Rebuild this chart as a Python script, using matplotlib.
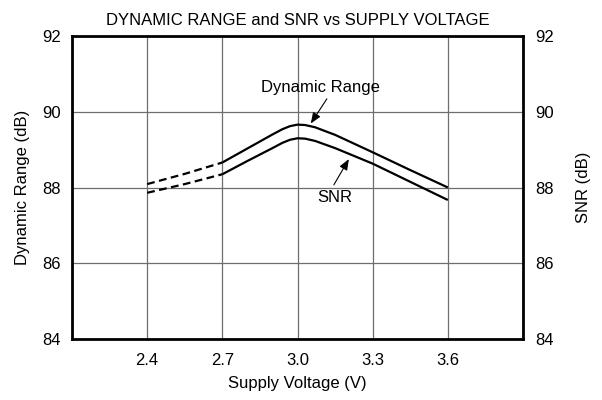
import matplotlib
matplotlib.use("Agg")
import matplotlib.pyplot as plt

plt.rcParams['font.family'] = ['Liberation Sans', 'DejaVu Sans']

title = "DYNAMIC RANGE and SNR vs SUPPLY VOLTAGE"
x_ticks = [2.4, 2.7, 3.0, 3.3, 3.6]
x_tick_labels = ["2.4", "2.7", "3.0", "3.3", "3.6"]
y_ticks = [84, 86, 88, 90, 92]

# dashed (extrapolated) portion
v_dash = [2.4, 2.55, 2.7]
dr_dash = [88.09, 88.36, 88.66]
snr_dash = [87.86, 88.09, 88.35]

# solid portion
v_solid = [2.7, 2.8, 2.9, 2.94, 2.97, 3.0, 3.03, 3.07, 3.15, 3.3, 3.45, 3.6]
dr_solid = [88.66, 89.03, 89.40, 89.54, 89.62, 89.66, 89.65, 89.59, 89.39, 88.93, 88.46, 88.0]
snr_solid = [88.35, 88.70, 89.04, 89.18, 89.26, 89.30, 89.29, 89.23, 89.04, 88.63, 88.15, 87.67]

fig = plt.figure(figsize=(6.02, 4.0), dpi=100)
ax = fig.add_axes([0.1196, 0.1525, 0.7492, 0.7575])

ax.plot(v_dash, dr_dash, color='black', lw=1.6, ls=(0, (3.5, 2)))
ax.plot(v_dash, snr_dash, color='black', lw=1.6, ls=(0, (3.5, 2)))
ax.plot(v_solid, dr_solid, color='black', lw=1.6, solid_capstyle='butt', solid_joinstyle='round')
ax.plot(v_solid, snr_solid, color='black', lw=1.6, solid_capstyle='butt', solid_joinstyle='round')

ax.set_xlim(2.1, 3.9)
ax.set_ylim(84, 92)
ax.set_xticks([2.1] + x_ticks + [3.9])
ax.set_xticklabels([""] + x_tick_labels + [""])
ax.set_yticks(y_ticks)
ax.grid(True, color='#6e6e6e', lw=0.9)
ax.tick_params(length=0, labelsize=12)
ax.tick_params(axis='x', pad=10)
ax.tick_params(axis='y', pad=8)
for s in ax.spines.values():
    s.set_linewidth(2.0)
    s.set_color('black')

ax.set_xlabel("Supply Voltage (V)", fontsize=12, labelpad=6)
ax.set_ylabel("Dynamic Range (dB)", fontsize=12, labelpad=9)
ax.set_title(title, fontsize=12, pad=8)

ax2 = ax.twinx()
ax2.set_ylim(84, 92)
ax2.set_yticks(y_ticks)
ax2.tick_params(length=0, labelsize=12, pad=9)
ax2.set_ylabel("SNR (dB)", fontsize=12, labelpad=16)
for s in ax2.spines.values():
    s.set_visible(False)

ax.text(3.093, 90.63, "Dynamic Range", ha='center', va='center', fontsize=12)
ax.text(3.149, 87.73, "SNR", ha='center', va='center', fontsize=12)
ax.annotate("", xy=(3.053, 89.69), xytext=(3.117, 90.34),
            arrowprops=dict(arrowstyle='-|>,head_length=0.5,head_width=0.2', color='black', lw=0.8,
                            mutation_scale=13, shrinkA=0, shrinkB=0))
ax.annotate("", xy=(3.205, 88.75), xytext=(3.145, 88.07),
            arrowprops=dict(arrowstyle='-|>,head_length=0.5,head_width=0.2', color='black', lw=0.8,
                            mutation_scale=13, shrinkA=0, shrinkB=0))

fig.savefig("out.png", dpi=100)
